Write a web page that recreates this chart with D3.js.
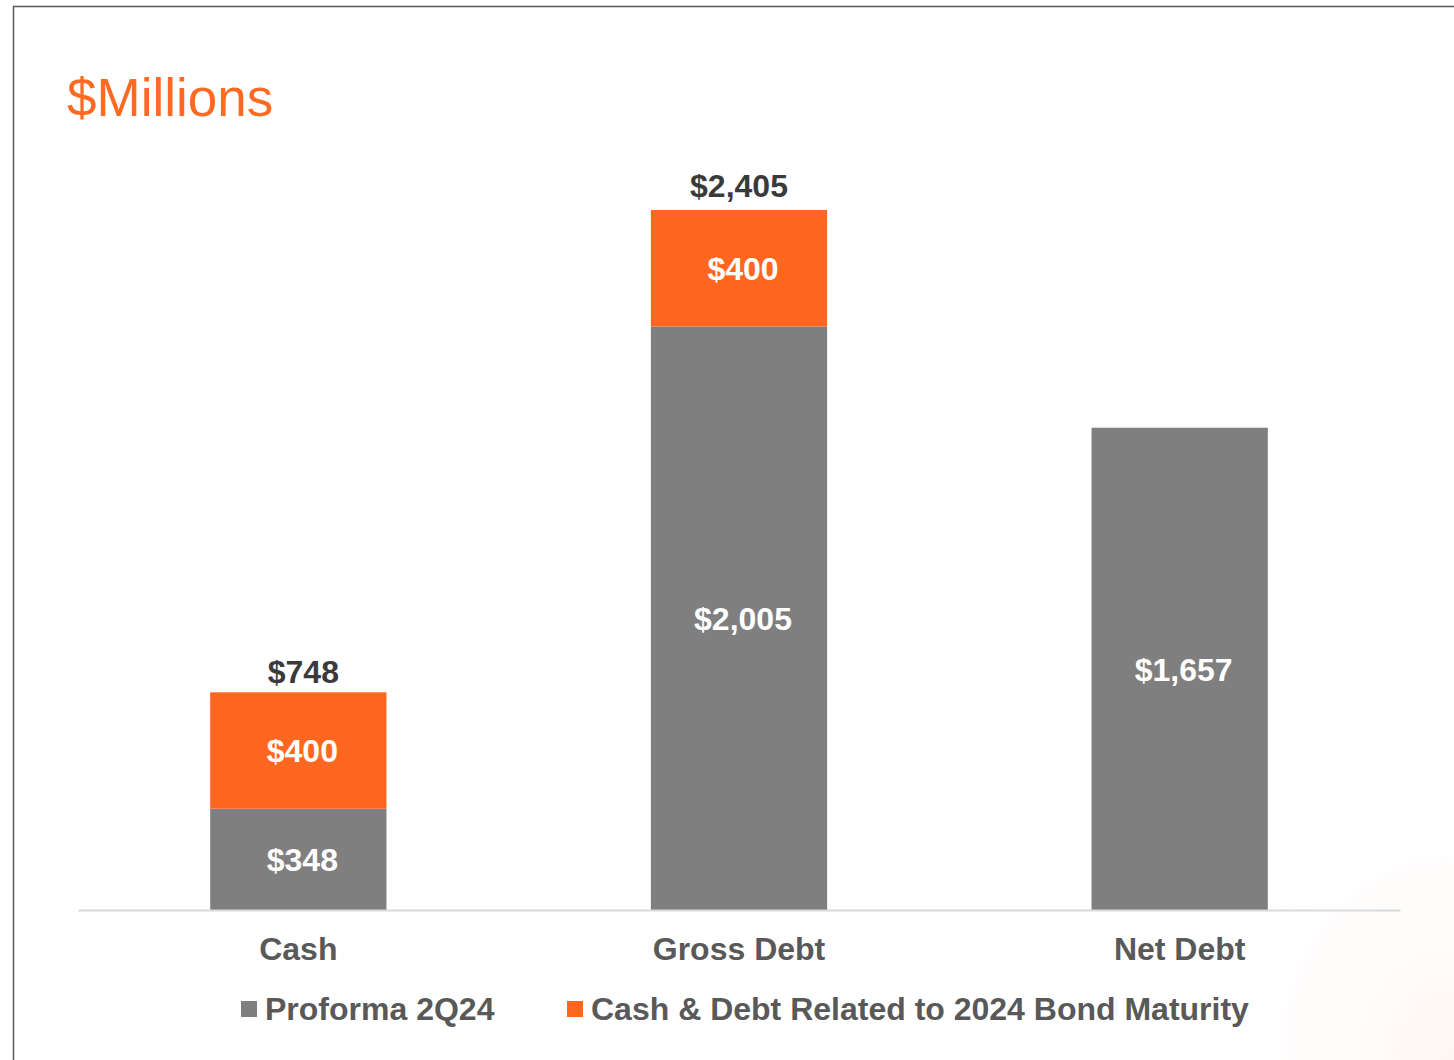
<!DOCTYPE html>
<html>
<head>
<meta charset="utf-8">
<script src="https://cdn.jsdelivr.net/npm/d3@7"></script>
<style>
  body { margin: 0; background: #fff; }
  svg { display: block; font-family: "Liberation Sans", Arial, sans-serif; }
</style>
</head>
<body>
<div id="chart"></div>
<script>
// data
var categories = ['Cash', 'Gross Debt', 'Net Debt']
var proforma = [348, 2005, 1657]
var bondRelated = [400, 400, 0]
var seriesNames = ['Proforma 2Q24', 'Cash & Debt Related to 2024 Bond Maturity']
var seriesColors = ['#7f7f7f', '#ff6720']
var fmt = d3.format(',')

var width = 1454
var height = 1060

var svg = d3.select('#chart')
  .append('svg')
  .attr('width', width)
  .attr('height', height)

// faint warm glow in the lower right corner
var defs = svg.append('defs')
var glow = defs.append('radialGradient')
  .attr('id', 'glow')
  .attr('cx', 1).attr('cy', 1).attr('r', 0.5)
glow.append('stop').attr('offset', '0%').attr('stop-color', '#ffeee4').attr('stop-opacity', 0.5)
glow.append('stop').attr('offset', '100%').attr('stop-color', '#ffffff').attr('stop-opacity', 0)
svg.append('rect')
  .attr('x', 900).attr('y', 400)
  .attr('width', width - 900).attr('height', height - 400)
  .attr('fill', 'url(#glow)')

// frame
svg.append('path')
  .attr('d', 'M13.5,' + height + ' V6.5 H' + width)
  .attr('fill', 'none')
  .attr('stroke', '#5a5a5a')
  .attr('stroke-width', 1.5)

svg.append('text')
  .attr('x', 67)
  .attr('y', 116)
  .attr('fill', '#ff6a22')
  .style('font-size', '53px')
  .text('$Millions')

var x = d3.scaleBand()
  .domain(categories)
  .range([78, 1400])
  .paddingInner(0.6)
  .paddingOuter(0.3)

var y = d3.scaleLinear()
  .domain([0, 2405])
  .range([910, 210])

var stacked = categories.map(function(c, i) {
  return { cat: c, a: proforma[i], b: bondRelated[i] }
})

var bars = svg.append('g').selectAll('g')
  .data(stacked)
  .enter()
  .append('g')

bars.append('rect')
  .attr('x', d => x(d.cat))
  .attr('width', x.bandwidth())
  .attr('y', d => y(d.a))
  .attr('height', d => y(0) - y(d.a))
  .attr('fill', seriesColors[0])

bars.filter(d => d.b > 0).append('rect')
  .attr('x', d => x(d.cat))
  .attr('width', x.bandwidth())
  .attr('y', d => y(d.a + d.b))
  .attr('height', d => y(d.a) - y(d.a + d.b))
  .attr('fill', seriesColors[1])

// labels inside segments
bars.append('text')
  .attr('x', d => x(d.cat) + x.bandwidth() / 2 + 4)
  .attr('y', d => (y(0) + y(d.a)) / 2 + 12)
  .attr('text-anchor', 'middle')
  .attr('fill', '#fff')
  .style('font-size', '32px')
  .style('font-weight', 'bold')
  .text(d => '$' + fmt(d.a))

bars.filter(d => d.b > 0).append('text')
  .attr('x', d => x(d.cat) + x.bandwidth() / 2 + 4)
  .attr('y', d => (y(d.a) + y(d.a + d.b)) / 2 + 12)
  .attr('text-anchor', 'middle')
  .attr('fill', '#fff')
  .style('font-size', '32px')
  .style('font-weight', 'bold')
  .text(d => '$' + fmt(d.b))

// totals (the short bar's label sits a touch lower and to the right)
bars.filter(d => d.b > 0).append('text')
  .attr('x', d => x(d.cat) + x.bandwidth() / 2 + (d.a + d.b < 1000 ? 5 : 0))
  .attr('y', d => y(d.a + d.b) - (d.a + d.b < 1000 ? 9 : 13))
  .attr('text-anchor', 'middle')
  .attr('fill', '#3a3a3a')
  .style('font-size', '32px')
  .style('font-weight', 'bold')
  .text(d => '$' + fmt(d.a + d.b))

// axis
var axis = svg.append('g')
  .attr('transform', 'translate(0,' + y(0) + ')')
  .call(d3.axisBottom(x).tickSize(0).tickPadding(0))
axis.select('.domain')
  .attr('stroke', '#d9d9d9')
  .attr('stroke-width', 2)
axis.selectAll('text')
  .attr('dy', 0)
  .attr('y', 50)
  .attr('fill', '#595959')
  .style('font-family', '"Liberation Sans", Arial, sans-serif')
  .style('font-size', '32px')
  .style('font-weight', 'bold')

// legend
var legendX = [241, 567]
var legend = svg.append('g').selectAll('g')
  .data(seriesNames)
  .enter()
  .append('g')
  .attr('transform', (d, i) => 'translate(' + legendX[i] + ',1000)')

legend.append('rect')
  .attr('width', 16)
  .attr('height', 16)
  .attr('y', 1)
  .attr('fill', (d, i) => seriesColors[i])

legend.append('text')
  .attr('x', 24)
  .attr('y', 20)
  .attr('fill', '#595959')
  .style('font-size', '32px')
  .style('font-weight', 'bold')
  .text(d => d)
</script>
</body>
</html>
